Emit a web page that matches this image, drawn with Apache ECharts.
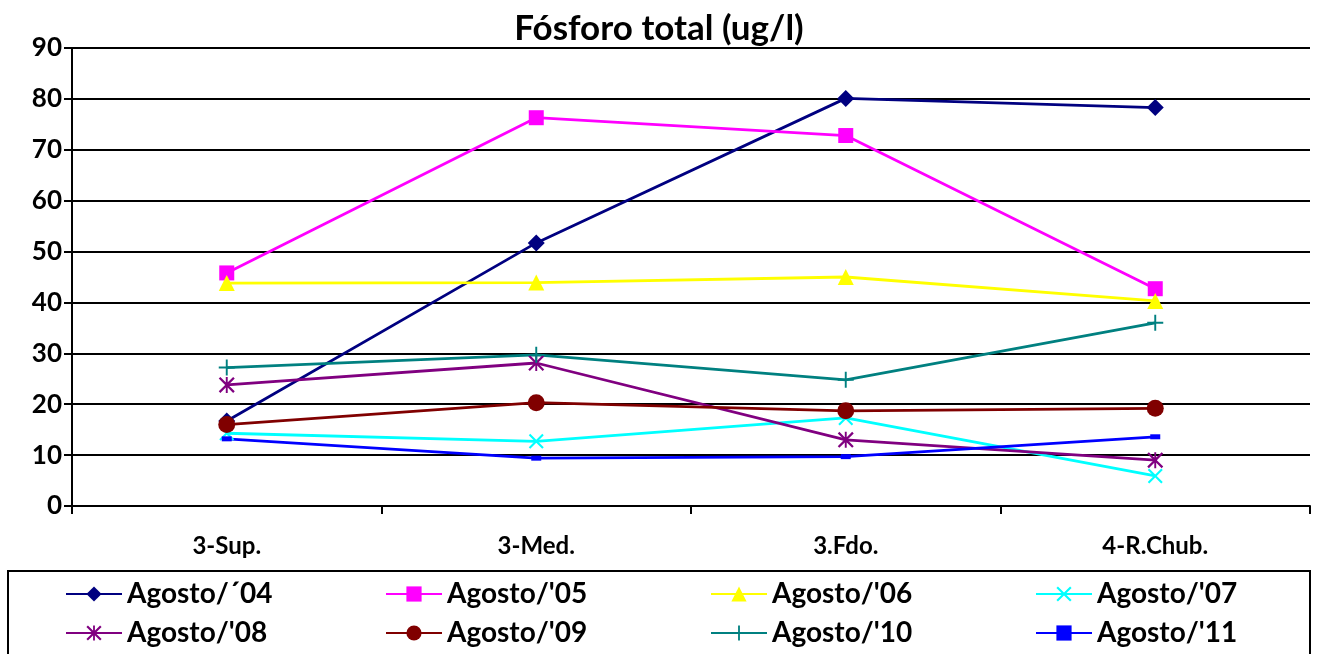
<!DOCTYPE html>
<html>
<head>
<meta charset="utf-8">
<script src="https://cdn.jsdelivr.net/npm/echarts@6/dist/echarts.min.js"></script>
<style>html,body{margin:0;padding:0;background:#fff;}#c{width:1318px;height:654px;}</style>
</head>
<body>
<div id="c"></div>
<script>
var categories = ['3-Sup.', '3-Med.', '3.Fdo.', '4-R.Chub.'];
var yTicks = [0, 10, 20, 30, 40, 50, 60, 70, 80, 90];
var seriesNames = ["Agosto/\u00b404", "Agosto/'05", "Agosto/'06", "Agosto/'07", "Agosto/'08", "Agosto/'09", "Agosto/'10", "Agosto/'11"];
var ago04 = [16.7, 51.7, 80.1, 78.3];
var ago05 = [45.8, 76.3, 72.8, 42.7];
var ago06 = [43.8, 43.9, 45.0, 40.3];
var ago07 = [14.3, 12.7, 17.3, 5.9];
var ago08 = [23.8, 28.1, 13.0, 9.0];
var ago09 = [16.0, 20.3, 18.7, 19.2];
var ago10 = [27.2, 29.7, 24.8, 36.0];
var ago11 = [13.2, 9.4, 9.7, 13.6];

var values = [ago04, ago05, ago06, ago07, ago08, ago09, ago10, ago11];
var colors = ['#000080', '#FF00FF', '#FFFF00', '#00FFFF', '#800080', '#800000', '#008080', '#0000FF'];
var X = 'path://M0,1L1,0L5,4L9,0L10,1L6,5L10,9L9,10L5,6L1,10L0,9L4,5Z';
var PLUS = 'path://M4.4,0H5.6V4.4H10V5.6H5.6V10H4.4V5.6H0V4.4H4.4Z';
var STAR = 'path://M0,1L1,0L5,4L9,0L10,1L6,5L10,9L9,10L5,6L1,10L0,9L4,5Z M4.4,0H5.6V10H4.4Z';
var DASH = 'path://M0,0H10V4H0Z';
var symbols = ['diamond', 'rect', 'triangle', X, STAR, 'circle', PLUS, DASH];
var sizes = [17, 15, 16, 15, 16, 17, 16, [10, 5]];

var font = 'Lato, "Open Sans", sans-serif';
var series = seriesNames.map(function (n, i) {
  return {
    name: n, type: 'line', data: values[i],
    symbol: symbols[i], symbolSize: sizes[i],
    showAllSymbol: true,
    lineStyle: { color: colors[i], width: 2.8 },
    itemStyle: { color: colors[i], borderWidth: 0 },
    emphasis: { disabled: true },
    animation: false
  };
});

var colLeft = [65, 385, 710, 1035];
var rowTop = [579, 618];
var legends = seriesNames.map(function (n, i) {
  return {
    orient: 'horizontal', left: colLeft[i % 4], top: rowTop[Math.floor(i / 4)],
    padding: 0,
    itemWidth: 56, itemHeight: 19, itemGap: 10,
    textStyle: { fontFamily: font, fontWeight: 'bold', fontSize: 28, lineHeight: 30, color: '#000' },
    data: [n]
  };
});

var chart = echarts.init(document.getElementById('c'), null, { renderer: 'canvas' });
chart.setOption({
  backgroundColor: '#fff',
  animation: false,
  color: colors,
  title: {
    text: 'F\u00f3sforo total (ug/l)', left: 'center', top: 6,
    textStyle: { fontFamily: font, fontWeight: 'bold', fontSize: 35, color: '#000' }
  },
  grid: { left: 72, right: 8, top: 48, bottom: 148, containLabel: false },
  xAxis: {
    type: 'category', data: categories, boundaryGap: true,
    axisLine: { lineStyle: { color: '#000', width: 2 } },
    axisTick: { show: true, length: 8, lineStyle: { color: '#000', width: 2 }, alignWithLabel: false },
    axisLabel: { fontFamily: font, fontWeight: 'bold', fontSize: 24, color: '#000', margin: 28 },
    splitLine: { show: false }
  },
  yAxis: {
    type: 'value', min: yTicks[0], max: yTicks[yTicks.length - 1], interval: 10,
    axisLine: { show: true, lineStyle: { color: '#000', width: 2 } },
    axisTick: { show: true, length: 8, lineStyle: { color: '#000', width: 2 } },
    axisLabel: { fontFamily: font, fontWeight: 'bold', fontSize: 26, color: '#000', margin: 10 },
    splitLine: { show: true, lineStyle: { color: '#000', width: 2 } }
  },
  legend: legends,
  graphic: [{
    type: 'rect', shape: { x: 8, y: 571, width: 1302, height: 100 },
    style: { fill: 'none', stroke: '#000', lineWidth: 2 }, silent: true
  }],
  series: series
});
</script>
</body>
</html>
